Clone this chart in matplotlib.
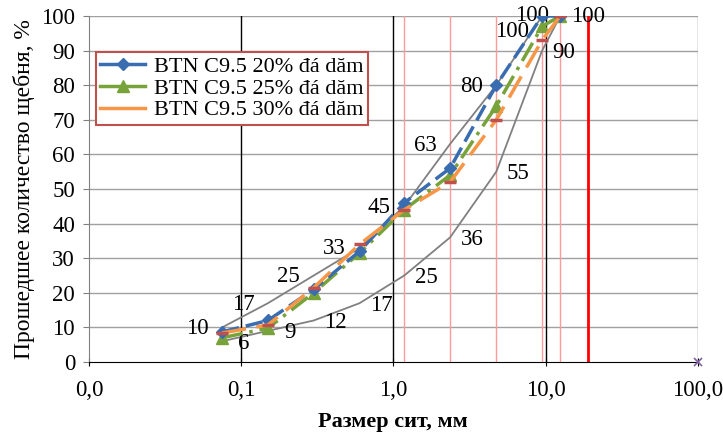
import matplotlib
matplotlib.use("Agg")
import matplotlib.pyplot as plt
from matplotlib.lines import Line2D

plt.rcParams['font.family'] = ['Liberation Serif', 'DejaVu Serif']

# sieve sizes, mm
SIEVES = [0.075, 0.15, 0.3, 0.6, 1.18, 2.36, 4.75, 9.5, 12.5]
# control limits
UPPER = [10, 17, 25, 33, 45, 63, 80, 100, 100]
LOWER = [6, 9, 12, 17, 25, 36, 55, 90, 100]
# mixes
MIX_20 = [8.7, 12, 21, 32, 46, 56, 80, 100, 100]
MIX_25 = [7, 9.8, 20, 31.5, 44, 54, 74, 97, 100]
MIX_30 = [8.4, 10.7, 21.5, 34, 44, 52, 70, 93, 100]
LABELS = ['BTN C9.5 20% đá dăm', 'BTN C9.5 25% đá dăm', 'BTN C9.5 30% đá dăm']
# sieve marker lines
SIEVE_LINES = [1.18, 2.36, 4.75, 9.5, 12.5]
MAX_SIZE = 19
XTICKS = [0.01, 0.1, 1, 10, 100]
XTICKLABELS = ['0,0', '0,1', '1,0', '10,0', '100,0']

fig = plt.figure(figsize=(7.23, 4.32), dpi=100)
ax = fig.add_axes([0.123, 0.162, 0.842, 0.801])
ax.set_xscale('log')
ax.set_xlim(0.01, 100)
ax.set_ylim(0, 100)

# grid
for yv in range(10, 101, 10):
    ax.axhline(yv, color='#a0a0a0', lw=1, zorder=0)
for xv in [0.1, 1, 10]:
    ax.axvline(xv, color='black', lw=1, zorder=1)
ax.axvline(100, color='#808080', lw=1, zorder=1)
for xv in SIEVE_LINES:
    ax.axvline(xv, color='#ff9a9a', lw=1, zorder=1)
ax.axvline(MAX_SIZE, color='#ff0000', lw=2, zorder=1)

# limits
ax.plot(SIEVES, UPPER, color='#808080', lw=1.3, zorder=2)
ax.plot(SIEVES, LOWER, color='#808080', lw=1.3, zorder=2)
for i in range(len(SIEVES)):
    if i == 7:
        off_u = (-30, -16)
    elif i == 8:
        off_u = (-28, 0)
    else:
        off_u = (-25, -1)
    ax.annotate(str(UPPER[i]), (SIEVES[i], UPPER[i]), xytext=off_u,
                textcoords='offset pixels', ha='center', va='center', fontsize=16.5)
    off_l = (28, -1) if i == 8 else (22, -2)
    ax.annotate(str(LOWER[i]), (SIEVES[i], LOWER[i]), xytext=off_l,
                textcoords='offset pixels', ha='center', va='center', fontsize=16.5)

# mixes
ax.plot(SIEVES, MIX_20, color='#3a6db0', lw=2.5, dashes=(5, 2),
        marker='D', ms=6, zorder=4)
ax.plot(SIEVES, MIX_25, color='#77a33a', lw=2.5, dashes=(6, 2, 1, 2),
        marker='^', ms=8, zorder=3)
ax.plot(SIEVES, MIX_30, color='#f79646', lw=2.5, dashes=(7, 3),
        marker='_', ms=9, mew=2.5, mec='#c0504d', zorder=5)
ax.plot([100], [0], marker='x', color='#7f60a0', ms=6, mew=1.2, zorder=5, clip_on=False)

for s in ['top', 'right']:
    ax.spines[s].set_visible(False)
ax.spines['left'].set_color('#808080')
ax.spines['bottom'].set_color('black')

ax.set_xticks(XTICKS)
ax.set_xticklabels(XTICKLABELS)
ax.xaxis.set_minor_locator(matplotlib.ticker.NullLocator())
ax.set_yticks(range(0, 101, 10))
ax.tick_params(axis='x', direction='inout', length=6, labelsize=16.5, pad=10)
ax.tick_params(axis='y', direction='out', length=4, color='#808080', labelsize=16.5, pad=6)

ax.set_xlabel('Размер сит, мм', fontsize=16, fontweight='bold', labelpad=8)
ax.set_ylabel('Прошедшее количество щебня, %', fontsize=17, labelpad=4)

handles = [
    Line2D([], [], color='#3a6db0', lw=2.5, marker='D', ms=6),
    Line2D([], [], color='#77a33a', lw=2.5, marker='^', ms=8),
    Line2D([], [], color='#f79646', lw=2.5),
]
leg = ax.legend(handles, LABELS, loc='upper left', bbox_to_anchor=(0.0115, 0.896),
                fontsize=16, fancybox=False, framealpha=1, borderpad=0.2,
                labelspacing=0.05, handlelength=2.0, handletextpad=0.4, borderaxespad=0)
leg.get_frame().set_edgecolor('#c0504d')
leg.get_frame().set_linewidth(1.5)

fig.savefig('out.png', dpi=100)
